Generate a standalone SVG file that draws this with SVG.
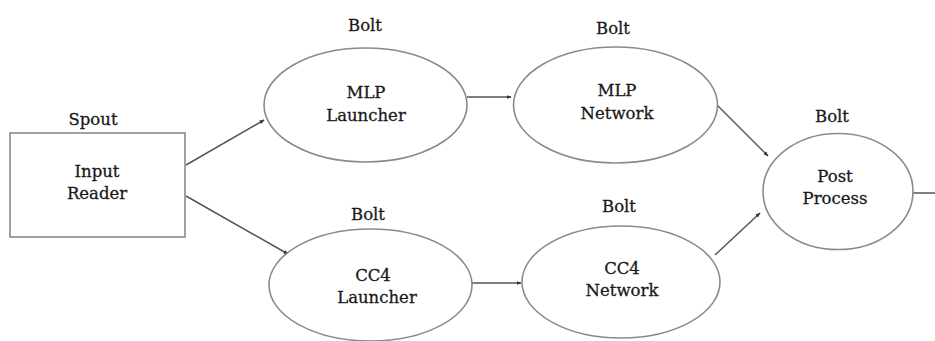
<svg xmlns="http://www.w3.org/2000/svg" width="935" height="341" viewBox="0 0 935 341">
<style>
.shape{fill:#fff;stroke:#8a8a8a;stroke-width:1.6}
.t{font-family:"DejaVu Serif","Liberation Serif",serif;font-size:16.5px;fill:#1a1a1a;stroke:#1a1a1a;stroke-width:0.3;text-anchor:middle}
.c{fill:none;stroke:#555;stroke-width:1.5}
</style>
<defs>
<marker id="ah" viewBox="0 0 10 10" refX="9" refY="5" markerWidth="5" markerHeight="5" orient="auto" markerUnits="userSpaceOnUse">
<path d="M0,1 L10,5 L0,9 z" fill="#333"/>
</marker>
</defs>
<rect x="0" y="0" width="935" height="341" fill="#fff"/>
<g id="connectors">
<line class="c" x1="186" y1="165" x2="264" y2="120" marker-end="url(#ah)"/>
<line class="c" x1="186" y1="196" x2="288" y2="254" marker-end="url(#ah)"/>
<line class="c" x1="467" y1="97" x2="511" y2="97" marker-end="url(#ah)"/>
<line class="c" x1="472" y1="283" x2="521" y2="283" marker-end="url(#ah)"/>
<line class="c" x1="717" y1="105" x2="768" y2="156" marker-end="url(#ah)"/>
<line class="c" x1="715" y1="255" x2="760" y2="213" marker-end="url(#ah)"/>
<line class="c" x1="913" y1="193" x2="935" y2="193"/>
</g>
<g id="input-reader">
<text class="t" x="93" y="125">Spout</text>
<rect class="shape" x="10" y="133" width="175" height="104"/>
<text class="t" x="97" y="177">Input</text>
<text class="t" x="97" y="199">Reader</text>
</g>
<g id="mlp-launcher">
<text class="t" x="365" y="31">Bolt</text>
<ellipse class="shape" cx="365.5" cy="105" rx="101.5" ry="57"/>
<text class="t" x="366" y="98">MLP</text>
<text class="t" x="366" y="121">Launcher</text>
</g>
<g id="mlp-network">
<text class="t" x="613" y="34">Bolt</text>
<ellipse class="shape" cx="615.5" cy="105" rx="102" ry="58"/>
<text class="t" x="617" y="96">MLP</text>
<text class="t" x="617" y="119">Network</text>
</g>
<g id="cc4-launcher">
<text class="t" x="368" y="220">Bolt</text>
<ellipse class="shape" cx="370.5" cy="285" rx="101.5" ry="56"/>
<text class="t" x="373" y="281">CC4</text>
<text class="t" x="377" y="303">Launcher</text>
</g>
<g id="cc4-network">
<text class="t" x="619" y="212">Bolt</text>
<ellipse class="shape" cx="621" cy="282" rx="99" ry="56"/>
<text class="t" x="622" y="274">CC4</text>
<text class="t" x="622" y="296">Network</text>
</g>
<g id="post-process">
<text class="t" x="832" y="122">Bolt</text>
<ellipse class="shape" cx="838" cy="191.5" rx="75" ry="58"/>
<text class="t" x="835" y="182">Post</text>
<text class="t" x="835" y="204">Process</text>
</g>
</svg>
